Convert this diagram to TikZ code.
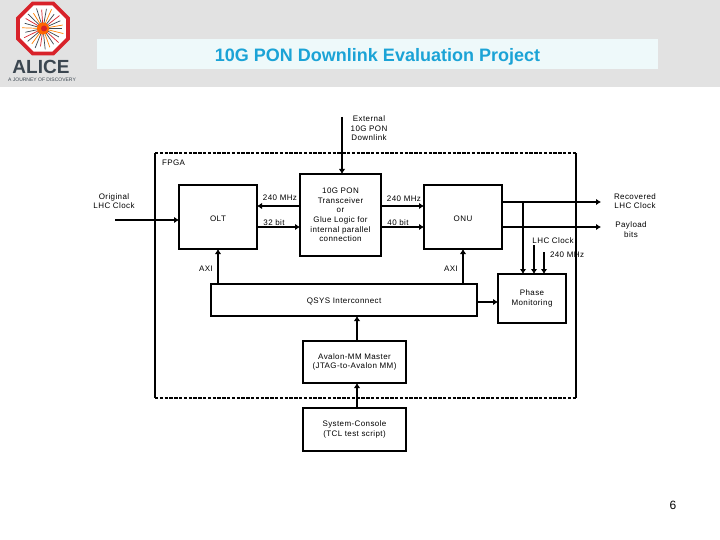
\documentclass[tikz,border=0pt]{standalone}
\usepackage{fontspec}
\setmainfont[LetterSpace=5]{Liberation Sans}
\newfontfamily\plainsans{Liberation Sans}
\usetikzlibrary{arrows.meta}
\definecolor{bandgrey}{HTML}{E2E2E2}
\definecolor{titlefill}{HTML}{EEF9FA}
\definecolor{titleblue}{HTML}{1BA3D6}
\definecolor{logored}{HTML}{D8222A}
\definecolor{logodark}{HTML}{3B4650}
\newcommand\lowerline{\rule{0pt}{8.6pt}}
\tikzset{
  every node/.style={inner sep=0pt,outer sep=0pt},
  blockbox/.style={draw=black,line width=1.7pt,fill=white,align=center,font=\fontsize{8}{9.6}\selectfont,execute at begin node=\lowerline},
  lbl/.style={align=center,text=black,font=\fontsize{8}{9.6}\selectfont,execute at begin node=\lowerline},
  conn/.style={draw=black,line width=1.7pt,-{Latex[length=5pt,width=6.5pt]}},
  frameside/.style={draw=black,line width=1.7pt},
  framedash/.style={draw=black,line width=1.7pt,dash pattern=on 3.4pt off 1.4pt}
}
\begin{document}
\begin{tikzpicture}[x=1pt,y=-1pt]
\useasboundingbox (0,0) rectangle (720,540);
\fill[white] (0,0) rectangle (720,540);
\fill[bandgrey] (0,0) rectangle (720,87);
% title
\node[fill=titlefill,minimum width=561pt,minimum height=30pt] (titlebar) at (377.5,54) {};
\node[text=titleblue,font=\plainsans\bfseries\fontsize{18}{20}\selectfont] (titletext) at (377.5,56.5) {10G PON Downlink Evaluation Project};
% logo
\begin{scope}[shift={(43,28.5)}]
  \fill[white] (22.5:27) -- (67.5:27) -- (112.5:27) -- (157.5:27) -- (202.5:27) -- (247.5:27) -- (292.5:27) -- (337.5:27) -- cycle;
  \foreach \a/\r/\c in {0/19/logodark,14/21/orange,28/18/logodark,42/21/logored,56/19/logodark,70/20/orange,84/21/logodark,98/18/logored,112/21/logodark,126/19/orange,140/20/logodark,154/21/logored,168/18/logodark,182/21/orange,196/19/logodark,210/20/logored,224/21/logodark,238/18/orange,252/21/logodark,266/19/logored,280/20/logodark,294/21/orange,308/18/logodark,322/21/logored,336/19/logodark,350/20/orange}
    \draw[\c,line width=0.7pt] (\a:3) -- (\a:\r);
  \fill[orange!80!red] (0,0) circle (6);
  \fill[logored] (1,0) circle (3);
  \draw[logored,line width=3.8pt,line join=miter] (22.5:27) -- (67.5:27) -- (112.5:27) -- (157.5:27) -- (202.5:27) -- (247.5:27) -- (292.5:27) -- (337.5:27) -- cycle;
\end{scope}
\node[text=logodark,font=\plainsans\bfseries\fontsize{19}{20}\selectfont] (alice) at (41,67) {ALICE};
\node[text=logodark,font=\plainsans\fontsize{5}{6}\selectfont] (tagline) at (42,80) {A JOURNEY OF DISCOVERY};
% FPGA frame
\node[minimum width=421pt,minimum height=245pt] (fpga) at (365.5,275.5) {};
\draw[frameside] (fpga.north west) -- (fpga.south west);
\draw[frameside] (fpga.north east) -- (fpga.south east);
\draw[framedash] (fpga.north west) -- (fpga.north east);
\draw[framedash] (fpga.south west) -- (fpga.south east);
% blocks
\node[blockbox,minimum width=78pt,minimum height=64pt] (olt) at (218,217) {OLT};
\node[blockbox,minimum width=81pt,minimum height=82pt] (xcvr) at (340.5,215) {10G PON\\Transceiver\\or\\Glue Logic for\\internal parallel\\connection};
\node[blockbox,minimum width=78pt,minimum height=64pt] (onu) at (463,217) {ONU};
\node[blockbox,minimum width=266pt,minimum height=32pt] (qsys) at (344,300) {QSYS Interconnect};
\node[blockbox,minimum width=68pt,minimum height=49pt] (phase) at (532,298.5) {Phase\\Monitoring};
\node[blockbox,minimum width=103pt,minimum height=42pt] (avalon) at (354.5,362) {Avalon-MM Master\\(JTAG-to-Avalon MM)};
\node[blockbox,minimum width=103pt,minimum height=43pt] (console) at (354.5,429.5) {System-Console\\(TCL test script)};
% free ends
\coordinate (clkin) at (115,220);
\coordinate (extin) at (342,117);
\coordinate (recout) at (601,202);
\coordinate (payout) at (601,227);
\coordinate (lhcin) at (534,245);
\coordinate (mhzin) at (544,252);
\coordinate (branch) at (523,202);
% connectors
\draw[conn] (clkin) -- (clkin -| olt.west);
\draw[conn] (extin) -- (extin |- xcvr.north);
\coordinate (a1) at (300,206);
\coordinate (a2) at (300,227);
\draw[conn] (a1 -| xcvr.west) -- (a1 -| olt.east);
\draw[conn] (a2 -| olt.east) -- (a2 -| xcvr.west);
\draw[conn] (a1 -| xcvr.east) -- (a1 -| onu.west);
\draw[conn] (a2 -| xcvr.east) -- (a2 -| onu.west);
\draw[conn] (recout -| onu.east) -- (recout);
\draw[conn] (payout -| onu.east) -- (payout);
\draw[conn] (branch) -- (branch |- phase.north);
\draw[conn] (lhcin) -- (lhcin |- phase.north);
\draw[conn] (mhzin) -- (mhzin |- phase.north);
\coordinate (axil) at (218,267);
\draw[conn] (axil |- qsys.north) -- (axil |- olt.south);
\draw[conn] (qsys.north -| onu.south) -- (onu.south);
\coordinate (qp) at (490,302);
\draw[conn] (qp -| qsys.east) -- (qp -| phase.west);
\coordinate (vert) at (357,400);
\draw[conn] (vert |- avalon.north) -- (vert |- qsys.south);
\draw[conn] (vert |- console.north) -- (vert |- avalon.south);
% labels
\node[lbl] (lext) at (369,128.5) {External\\10G PON\\Downlink};
\node[lbl,anchor=west] (lfpga) at (162,161) {FPGA};
\node[lbl] (lorig) at (114,201) {Original\\LHC Clock};
\node[lbl] (l240a) at (280,196) {240 MHz};
\node[lbl] (l32) at (274,221) {32 bit};
\node[lbl] (l240b) at (404,197) {240 MHz};
\node[lbl] (l40) at (398,221) {40 bit};
\node[lbl] (lrec) at (635,201) {Recovered\\LHC Clock};
\node[lbl] (lpay) at (631,229.5) {Payload\\bits};
\node[lbl] (llhc) at (553,239) {LHC Clock};
\node[lbl] (l240c) at (567,253) {240 MHz};
\node[lbl] (laxia) at (206,267) {AXI};
\node[lbl] (laxib) at (451,267) {AXI};
\node[text=black,font=\plainsans\fontsize{12}{14}\selectfont] (pagenum) at (673,505) {6};
\end{tikzpicture}
\end{document}
